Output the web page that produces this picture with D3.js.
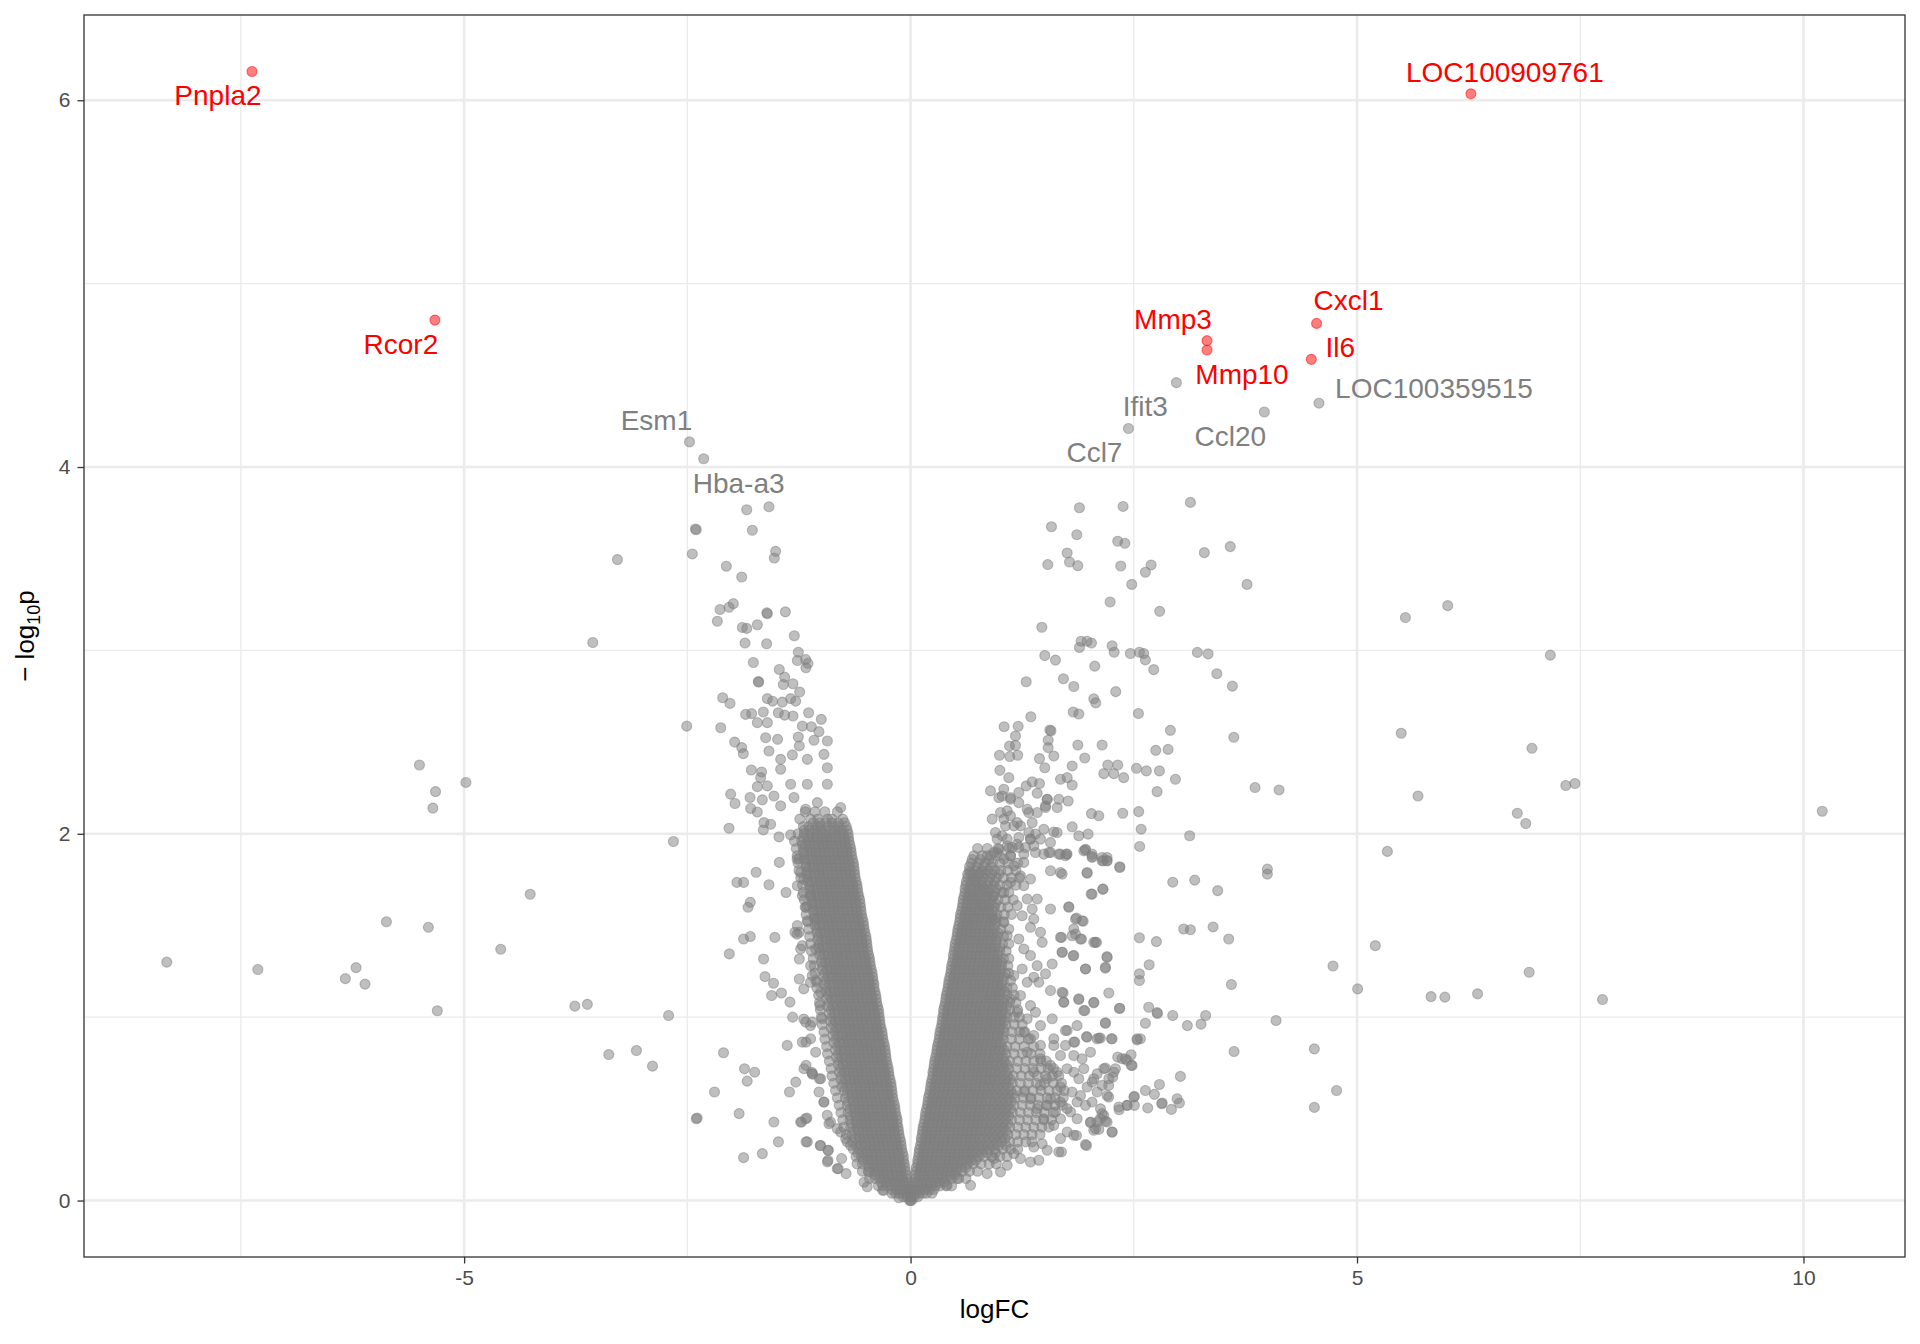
<!DOCTYPE html>
<html>
<head>
<meta charset="utf-8">
<script src="https://cdnjs.cloudflare.com/ajax/libs/d3/7.8.5/d3.min.js"></script>
<style>
  html, body { margin: 0; padding: 0; background: #fff; }
  svg { display: block; font-family: "Liberation Sans", Arial, Helvetica, sans-serif; }
</style>
</head>
<body>
<svg id="chart"></svg>
<script>

//============================================================
// Data (logFC, -log10 p)
//------------------------------------------------------------

// labelled genes
var genes    = ['Pnpla2', 'LOC100909761', 'Rcor2', 'Cxcl1', 'Mmp3', 'Mmp10', 'Il6', 'Ifit3', 'LOC100359515', 'Ccl20', 'Ccl7', 'Esm1', 'Hba-a3'];
var geneFC   = [-7.376, 6.275, -5.327, 4.547, 3.32, 3.32, 4.488, 2.977, 4.574, 3.962, 2.44, -2.476, -2.317];
var geneLogP = [6.157, 6.035, 4.801, 4.783, 4.689, 4.638, 4.587, 4.46, 4.348, 4.30, 4.21, 4.137, 4.045];
var geneSig  = [true, true, true, true, true, true, true, false, false, false, false, false, false];

// dense left arm of the V: [logP, logFC, logFC, ...]
var leftArmRows = [
  [0.00, 0.00, -0.01],
  [0.04, -0.01,-0.05,-0.09,-0.13,-0.17,-0.21],
  [0.08, -0.03,-0.07,-0.11,-0.16,-0.21,-0.26,-0.31,-0.36],
  [0.12, -0.04,-0.09,-0.14,-0.19,-0.24,-0.29,-0.34,-0.40,-0.46],
  [0.16, -0.06,-0.11,-0.16,-0.21,-0.26,-0.31,-0.36,-0.41,-0.47,-0.54],
  [0.20, -0.07,-0.12,-0.17,-0.22,-0.27,-0.32,-0.37,-0.42,-0.48,-0.54,-0.60],
  [0.24, -0.08,-0.13,-0.18,-0.23,-0.28,-0.33,-0.38,-0.43,-0.49,-0.55,-0.61],
  [0.28, -0.10,-0.15,-0.20,-0.25,-0.30,-0.35,-0.40,-0.45,-0.51,-0.57,-0.64],
  [0.32, -0.11,-0.16,-0.21,-0.26,-0.31,-0.36,-0.41,-0.46,-0.52,-0.58,-0.65,-0.71],
  [0.36, -0.13,-0.18,-0.23,-0.28,-0.33,-0.38,-0.43,-0.48,-0.53,-0.59,-0.66,-0.72],
  [0.40, -0.14,-0.19,-0.24,-0.29,-0.34,-0.39,-0.44,-0.49,-0.54,-0.60,-0.67,-0.75],
  [0.44, -0.15,-0.20,-0.25,-0.30,-0.35,-0.40,-0.45,-0.50,-0.55,-0.61,-0.68,-0.76],
  [0.48, -0.17,-0.22,-0.27,-0.32,-0.37,-0.42,-0.47,-0.52,-0.57,-0.63,-0.70,-0.78],
  [0.52, -0.18,-0.23,-0.28,-0.33,-0.38,-0.43,-0.48,-0.53,-0.58,-0.64,-0.71,-0.80],
  [0.56, -0.20,-0.25,-0.30,-0.35,-0.40,-0.45,-0.50,-0.55,-0.60,-0.66,-0.73,-0.82],
  [0.60, -0.21,-0.26,-0.31,-0.36,-0.41,-0.46,-0.51,-0.56,-0.61,-0.67,-0.74,-0.84],
  [0.64, -0.22,-0.27,-0.32,-0.37,-0.42,-0.47,-0.52,-0.57,-0.62,-0.68,-0.75,-0.86],
  [0.68, -0.24,-0.29,-0.34,-0.39,-0.44,-0.49,-0.54,-0.59,-0.64,-0.70,-0.77,-0.88],
  [0.72, -0.25,-0.30,-0.35,-0.40,-0.45,-0.50,-0.55,-0.60,-0.65,-0.71,-0.78,-0.89],
  [0.76, -0.27,-0.32,-0.37,-0.42,-0.47,-0.52,-0.57,-0.62,-0.67,-0.73,-0.80,-0.91],
  [0.80, -0.28,-0.33,-0.38,-0.43,-0.48,-0.53,-0.58,-0.63,-0.68,-0.74,-0.81,-0.93],
  [0.84, -0.29,-0.34,-0.39,-0.44,-0.49,-0.54,-0.59,-0.64,-0.69,-0.75,-0.82,-0.94],
  [0.88, -0.31,-0.36,-0.41,-0.46,-0.51,-0.56,-0.61,-0.66,-0.71,-0.77,-0.84,-0.96],
  [0.92, -0.32,-0.37,-0.42,-0.47,-0.52,-0.57,-0.62,-0.67,-0.72,-0.78,-0.85,-0.97],
  [0.96, -0.34,-0.39,-0.44,-0.49,-0.54,-0.59,-0.64,-0.69,-0.74,-0.80,-0.87,-0.99],
  [1.00, -0.35,-0.40,-0.45,-0.50,-0.55,-0.60,-0.65,-0.70,-0.75,-0.81,-0.88,-1.00],
  [1.04, -0.36,-0.41,-0.46,-0.51,-0.56,-0.61,-0.66,-0.71,-0.76,-0.82,-0.89,-1.01],
  [1.08, -0.38,-0.43,-0.48,-0.53,-0.58,-0.63,-0.68,-0.73,-0.78,-0.84,-0.91,-1.02],
  [1.12, -0.39,-0.44,-0.49,-0.54,-0.59,-0.64,-0.69,-0.74,-0.79,-0.85,-0.92,-1.03],
  [1.16, -0.41,-0.46,-0.51,-0.56,-0.61,-0.66,-0.71,-0.76,-0.81,-0.87,-0.94,-1.05],
  [1.20, -0.42,-0.47,-0.52,-0.57,-0.62,-0.67,-0.72,-0.77,-0.82,-0.88,-0.95,-1.06],
  [1.24, -0.43,-0.48,-0.53,-0.58,-0.63,-0.68,-0.73,-0.78,-0.83,-0.89,-0.96,-1.07],
  [1.28, -0.45,-0.50,-0.55,-0.60,-0.65,-0.70,-0.75,-0.80,-0.85,-0.91,-0.98,-1.08],
  [1.32, -0.46,-0.51,-0.56,-0.61,-0.66,-0.71,-0.76,-0.81,-0.86,-0.92,-0.99,-1.09],
  [1.36, -0.48,-0.53,-0.58,-0.63,-0.68,-0.73,-0.78,-0.83,-0.88,-0.94,-1.01,-1.11],
  [1.40, -0.49,-0.54,-0.59,-0.64,-0.69,-0.74,-0.79,-0.84,-0.89,-0.95,-1.02,-1.12],
  [1.44, -0.50,-0.55,-0.60,-0.65,-0.70,-0.75,-0.80,-0.85,-0.90,-0.96,-1.03,-1.13],
  [1.48, -0.52,-0.57,-0.62,-0.67,-0.72,-0.77,-0.82,-0.87,-0.92,-0.98,-1.05,-1.14],
  [1.52, -0.53,-0.58,-0.63,-0.68,-0.73,-0.78,-0.83,-0.88,-0.93,-0.99,-1.06,-1.15],
  [1.56, -0.55,-0.60,-0.65,-0.70,-0.75,-0.80,-0.85,-0.90,-0.95,-1.01,-1.08,-1.17],
  [1.60, -0.56,-0.61,-0.66,-0.71,-0.76,-0.81,-0.86,-0.91,-0.96,-1.02,-1.09,-1.18],
  [1.64, -0.57,-0.62,-0.67,-0.72,-0.77,-0.82,-0.87,-0.92,-0.97,-1.03,-1.10,-1.19],
  [1.68, -0.59,-0.64,-0.69,-0.74,-0.79,-0.84,-0.89,-0.94,-0.99,-1.05,-1.12,-1.20],
  [1.72, -0.60,-0.65,-0.70,-0.75,-0.80,-0.85,-0.90,-0.95,-1.00,-1.06,-1.13,-1.21],
  [1.76, -0.62,-0.67,-0.72,-0.77,-0.82,-0.87,-0.92,-0.97,-1.02,-1.08,-1.15,-1.23],
  [1.80, -0.63,-0.68,-0.73,-0.78,-0.83,-0.88,-0.93,-0.98,-1.03,-1.09,-1.16,-1.25],
  [1.84, -0.64,-0.69,-0.74,-0.79,-0.84,-0.89,-0.94,-0.99,-1.04,-1.10,-1.17,-1.26],
  [1.88, -0.66,-0.71,-0.76,-0.81,-0.86,-0.91,-0.96,-1.01,-1.06,-1.12,-1.19,-1.27],
  [1.92, -0.67,-0.72,-0.77,-0.82,-0.87,-0.92,-0.97,-1.02,-1.07,-1.13,-1.20,-1.28],
  [1.96, -0.69,-0.74,-0.79,-0.84,-0.89,-0.94,-0.99,-1.04,-1.09,-1.15,-1.22,-1.30],
  [2.00, -0.70,-0.76,-0.82,-0.88,-0.94,-1.00,-1.06,-1.12,-1.19,-1.26],
  [2.04, -0.72,-0.80,-0.85,-0.93,-1.01,-1.05,-1.14,-1.20],
  [2.08, -0.76,-0.88,-0.93,-1.04,-1.12,-1.24],
  [2.12, -0.82,-0.96,-1.07,-1.18]
];

// in-between rows of the left arm, where the cloud is solid
var leftArmFill = [
  [0.02, -0.01,-0.04,-0.08],
  [0.06, -0.02,-0.06,-0.11,-0.16,-0.21],
  [0.10, -0.035,-0.08,-0.13,-0.18,-0.23,-0.28,-0.33],
  [0.14, -0.05,-0.10,-0.15,-0.20,-0.25,-0.30,-0.35,-0.40],
  [0.18, -0.065,-0.115,-0.165,-0.215,-0.265,-0.315,-0.365,-0.415,-0.465],
  [0.22, -0.08,-0.13,-0.18,-0.23,-0.28,-0.33,-0.38,-0.43,-0.48,-0.53],
  [0.26, -0.09,-0.14,-0.19,-0.24,-0.29,-0.34,-0.39,-0.44,-0.49,-0.54,-0.59],
  [0.30, -0.105,-0.155,-0.205,-0.255,-0.305,-0.355,-0.405,-0.455,-0.505,-0.555,-0.61],
  [0.34, -0.12,-0.17,-0.22,-0.27,-0.32,-0.37,-0.42,-0.47,-0.52,-0.57,-0.62],
  [0.38, -0.135,-0.185,-0.235,-0.285,-0.335,-0.385,-0.435,-0.485,-0.535,-0.585,-0.64],
  [0.42, -0.15,-0.20,-0.25,-0.30,-0.35,-0.40,-0.45,-0.50,-0.55,-0.60,-0.66],
  [0.46, -0.16,-0.21,-0.26,-0.31,-0.36,-0.41,-0.46,-0.51,-0.56,-0.61,-0.67],
  [0.50, -0.175,-0.225,-0.275,-0.325,-0.375,-0.425,-0.475,-0.525,-0.575,-0.625,-0.68],
  [0.54, -0.19,-0.24,-0.29,-0.34,-0.39,-0.44,-0.49,-0.54,-0.59,-0.64,-0.70],
  [0.58, -0.205,-0.255,-0.305,-0.355,-0.405,-0.455,-0.505,-0.555,-0.605,-0.655,-0.71],
  [0.62, -0.215,-0.265,-0.315,-0.365,-0.415,-0.465,-0.515,-0.565,-0.615,-0.665,-0.72,-0.77],
  [0.66, -0.23,-0.28,-0.33,-0.38,-0.43,-0.48,-0.53,-0.58,-0.63,-0.68,-0.73,-0.78],
  [0.70, -0.245,-0.295,-0.345,-0.395,-0.445,-0.495,-0.545,-0.595,-0.645,-0.695,-0.745,-0.80],
  [0.74, -0.26,-0.31,-0.36,-0.41,-0.46,-0.51,-0.56,-0.61,-0.66,-0.71,-0.76,-0.81],
  [0.78, -0.275,-0.325,-0.375,-0.425,-0.475,-0.525,-0.575,-0.625,-0.675,-0.725,-0.775,-0.83],
  [0.82, -0.285,-0.335,-0.385,-0.435,-0.485,-0.535,-0.585,-0.635,-0.685,-0.735,-0.785,-0.84],
  [0.86, -0.30,-0.35,-0.40,-0.45,-0.50,-0.55,-0.60,-0.65,-0.70,-0.75,-0.80,-0.86],
  [0.90, -0.315,-0.365,-0.415,-0.465,-0.515,-0.565,-0.615,-0.665,-0.715,-0.765,-0.815,-0.87],
  [0.94, -0.33,-0.38,-0.43,-0.48,-0.53,-0.58,-0.63,-0.68,-0.73,-0.78,-0.83,-0.89],
  [0.98, -0.345,-0.395,-0.445,-0.495,-0.545,-0.595,-0.645,-0.695,-0.745,-0.795,-0.845,-0.90],
  [1.02, -0.355,-0.405,-0.455,-0.505,-0.555,-0.605,-0.655,-0.705,-0.755,-0.805,-0.855,-0.91],
  [1.06, -0.37,-0.42,-0.47,-0.52,-0.57,-0.62,-0.67,-0.72,-0.77,-0.82,-0.87,-0.93],
  [1.10, -0.385,-0.435,-0.485,-0.535,-0.585,-0.635,-0.685,-0.735,-0.785,-0.835,-0.885,-0.94],
  [1.14, -0.40,-0.45,-0.50,-0.55,-0.60,-0.65,-0.70,-0.75,-0.80,-0.85,-0.90,-0.95],
  [1.18, -0.41,-0.46,-0.51,-0.56,-0.61,-0.66,-0.71,-0.76,-0.81,-0.86,-0.91,-0.97],
  [1.22, -0.425,-0.475,-0.525,-0.575,-0.625,-0.675,-0.725,-0.775,-0.825,-0.875,-0.925,-0.98],
  [1.26, -0.44,-0.49,-0.54,-0.59,-0.64,-0.69,-0.74,-0.79,-0.84,-0.89,-0.94,-0.99],
  [1.30, -0.455,-0.505,-0.555,-0.605,-0.655,-0.705,-0.755,-0.805,-0.855,-0.905,-0.955,-1.00],
  [1.34, -0.47,-0.52,-0.57,-0.62,-0.67,-0.72,-0.77,-0.82,-0.87,-0.92,-0.97,-1.02],
  [1.38, -0.485,-0.535,-0.585,-0.635,-0.685,-0.735,-0.785,-0.835,-0.885,-0.935,-0.985,-1.03],
  [1.42, -0.495,-0.545,-0.595,-0.645,-0.695,-0.745,-0.795,-0.845,-0.895,-0.945,-0.995,-1.04],
  [1.46, -0.51,-0.56,-0.61,-0.66,-0.71,-0.76,-0.81,-0.86,-0.91,-0.96,-1.01,-1.05],
  [1.50, -0.525,-0.575,-0.625,-0.675,-0.725,-0.775,-0.825,-0.875,-0.925,-0.975,-1.025,-1.07],
  [1.54, -0.54,-0.59,-0.64,-0.69,-0.74,-0.79,-0.84,-0.89,-0.94,-0.99,-1.04,-1.08],
  [1.58, -0.555,-0.605,-0.655,-0.705,-0.755,-0.805,-0.855,-0.905,-0.955,-1.005,-1.055,-1.09],
  [1.62, -0.565,-0.615,-0.665,-0.715,-0.765,-0.815,-0.865,-0.915,-0.965,-1.015,-1.065,-1.10],
  [1.66, -0.58,-0.63,-0.68,-0.73,-0.78,-0.83,-0.88,-0.93,-0.98,-1.03,-1.08,-1.12],
  [1.70, -0.595,-0.645,-0.695,-0.745,-0.795,-0.845,-0.895,-0.945,-0.995,-1.045,-1.095,-1.13],
  [1.74, -0.61,-0.66,-0.71,-0.76,-0.81,-0.86,-0.91,-0.96,-1.01,-1.06,-1.11,-1.15],
  [1.78, -0.625,-0.675,-0.725,-0.775,-0.825,-0.875,-0.925,-0.975,-1.025,-1.075,-1.125,-1.16],
  [1.82, -0.635,-0.685,-0.735,-0.785,-0.835,-0.885,-0.935,-0.985,-1.035,-1.085,-1.135,-1.17],
  [1.86, -0.65,-0.70,-0.75,-0.80,-0.85,-0.90,-0.95,-1.00,-1.05,-1.10,-1.15,-1.19],
  [1.90, -0.665,-0.715,-0.765,-0.815,-0.865,-0.915,-0.965,-1.015,-1.065,-1.115,-1.165,-1.20],
  [1.94, -0.68,-0.73,-0.78,-0.83,-0.88,-0.93,-0.98,-1.03,-1.08,-1.13,-1.18,-1.21],
  [1.98, -0.695,-0.745,-0.795,-0.845,-0.895,-0.945,-0.995,-1.045,-1.095,-1.145,-1.20],
  [2.02, -0.71,-0.77,-0.83,-0.89,-0.95,-1.01,-1.07,-1.13,-1.19],
  [2.06, -0.74,-0.81,-0.88,-0.95,-1.02,-1.09]
];

// dense right arm of the V: [logP, logFC, logFC, ...]
var rightArmRows = [
  [0.00, 0.01],
  [0.04, 0.02,0.06,0.10,0.14,0.18,0.24],
  [0.08, 0.03,0.08,0.13,0.18,0.23,0.28,0.33,0.40,0.46],
  [0.12, 0.05,0.10,0.15,0.20,0.25,0.30,0.35,0.40,0.46,0.54,0.62],
  [0.16, 0.06,0.11,0.16,0.21,0.26,0.31,0.36,0.41,0.46,0.52,0.58,0.66,0.75],
  [0.20, 0.08,0.13,0.18,0.23,0.28,0.33,0.38,0.43,0.48,0.53,0.58,0.64,0.70,0.79,0.88,0.96],
  [0.24, 0.09,0.14,0.19,0.24,0.29,0.34,0.39,0.44,0.49,0.54,0.59,0.64,0.70,0.76,0.82,0.91,1.00,1.08],
  [0.28, 0.10,0.15,0.20,0.25,0.30,0.35,0.40,0.45,0.50,0.55,0.60,0.65,0.70,0.76,0.82,0.88,0.94,1.03,1.12,1.20],
  [0.32, 0.12,0.17,0.22,0.27,0.32,0.37,0.42,0.47,0.52,0.57,0.62,0.67,0.72,0.78,0.84,0.90,0.96,1.02,1.11,1.20,1.29,1.36],
  [0.36, 0.13,0.18,0.23,0.28,0.33,0.38,0.43,0.48,0.53,0.58,0.63,0.68,0.73,0.79,0.85,0.91,0.97,1.03,1.09,1.18,1.27,1.36,1.45],
  [0.40, 0.14,0.19,0.24,0.29,0.34,0.39,0.44,0.49,0.54,0.59,0.64,0.69,0.74,0.80,0.86,0.92,0.98,1.04,1.11,1.20,1.29,1.38,1.47,1.55],
  [0.44, 0.16,0.21,0.26,0.31,0.36,0.41,0.46,0.51,0.56,0.61,0.66,0.71,0.76,0.82,0.88,0.94,1.00,1.06,1.13,1.22,1.31,1.40,1.49,1.58],
  [0.48, 0.17,0.22,0.27,0.32,0.37,0.42,0.47,0.52,0.57,0.62,0.67,0.72,0.77,0.83,0.89,0.95,1.01,1.07,1.14,1.23,1.32,1.41,1.50,1.60],
  [0.52, 0.19,0.24,0.29,0.34,0.39,0.44,0.49,0.54,0.59,0.64,0.69,0.74,0.79,0.85,0.91,0.97,1.03,1.09,1.16,1.25,1.34,1.43,1.52,1.62,1.70],
  [0.56, 0.20,0.25,0.30,0.35,0.40,0.45,0.50,0.55,0.60,0.65,0.70,0.75,0.80,0.86,0.92,0.98,1.04,1.10,1.17,1.26,1.35,1.44,1.53,1.62,1.71],
  [0.60, 0.22,0.27,0.32,0.37,0.42,0.47,0.52,0.57,0.62,0.67,0.72,0.77,0.82,0.88,0.94,1.00,1.06,1.12,1.19,1.28,1.37,1.46,1.55,1.64,1.72],
  [0.64, 0.23,0.28,0.33,0.38,0.43,0.48,0.53,0.58,0.63,0.68,0.73,0.78,0.83,0.89,0.95,1.01,1.07,1.14,1.23,1.32,1.41,1.50,1.60,1.69],
  [0.68, 0.25,0.30,0.35,0.40,0.45,0.50,0.55,0.60,0.65,0.70,0.75,0.80,0.85,0.91,0.97,1.03,1.09,1.15,1.24,1.33,1.42,1.51,1.59,1.66],
  [0.72, 0.26,0.31,0.36,0.41,0.46,0.51,0.56,0.61,0.66,0.71,0.76,0.81,0.86,0.92,0.98,1.04,1.10,1.19,1.28,1.37,1.46,1.54,1.60],
  [0.76, 0.27,0.32,0.37,0.42,0.47,0.52,0.57,0.62,0.67,0.72,0.77,0.82,0.87,0.93,0.99,1.05,1.11,1.20,1.29,1.38,1.46,1.52],
  [0.80, 0.29,0.34,0.39,0.44,0.49,0.54,0.59,0.64,0.69,0.74,0.79,0.84,0.89,0.95,1.01,1.07,1.16,1.25,1.35,1.45],
  [0.84, 0.30,0.35,0.40,0.45,0.50,0.55,0.60,0.65,0.70,0.75,0.80,0.85,0.90,0.96,1.02,1.08,1.17,1.27,1.38],
  [0.88, 0.32,0.37,0.42,0.47,0.52,0.57,0.62,0.67,0.72,0.77,0.82,0.87,0.92,0.98,1.04,1.13,1.22,1.32],
  [0.92, 0.33,0.38,0.43,0.48,0.53,0.58,0.63,0.68,0.73,0.78,0.83,0.88,0.93,0.99,1.05,1.14,1.22,1.28],
  [0.96, 0.35,0.40,0.45,0.50,0.55,0.60,0.65,0.70,0.75,0.80,0.85,0.90,0.95,1.01,1.07,1.16,1.25],
  [1.00, 0.36,0.41,0.46,0.51,0.56,0.61,0.66,0.71,0.76,0.81,0.86,0.91,0.96,1.02,1.08,1.16,1.22],
  [1.04, 0.37,0.42,0.47,0.52,0.57,0.62,0.67,0.72,0.77,0.82,0.87,0.92,0.97,1.03,1.11,1.20],
  [1.08, 0.39,0.44,0.49,0.54,0.59,0.64,0.69,0.74,0.79,0.84,0.89,0.94,0.99,1.04,1.11,1.18],
  [1.12, 0.40,0.45,0.50,0.55,0.60,0.65,0.70,0.75,0.80,0.85,0.90,0.95,1.00,1.08,1.16],
  [1.16, 0.42,0.47,0.52,0.57,0.62,0.67,0.72,0.77,0.82,0.87,0.92,0.97,1.02,1.08,1.14],
  [1.20, 0.43,0.48,0.53,0.58,0.63,0.68,0.73,0.78,0.83,0.88,0.93,0.98,1.04,1.12],
  [1.24, 0.45,0.50,0.55,0.60,0.65,0.70,0.75,0.80,0.85,0.90,0.95,1.00,1.06,1.10],
  [1.28, 0.46,0.51,0.56,0.61,0.66,0.71,0.76,0.81,0.86,0.91,0.96,1.02,1.09],
  [1.32, 0.48,0.53,0.58,0.63,0.68,0.73,0.78,0.83,0.88,0.93,0.98,1.04,1.10],
  [1.36, 0.49,0.54,0.59,0.64,0.69,0.74,0.79,0.84,0.89,0.94,1.00,1.07],
  [1.40, 0.50,0.55,0.60,0.65,0.70,0.75,0.80,0.85,0.90,0.96,1.03,1.10],
  [1.44, 0.52,0.57,0.62,0.67,0.72,0.77,0.82,0.87,0.92,0.97,1.04],
  [1.48, 0.53,0.58,0.63,0.68,0.73,0.78,0.83,0.88,0.94,1.01,1.10],
  [1.52, 0.55,0.60,0.65,0.70,0.75,0.80,0.85,0.90,0.96,1.04],
  [1.56, 0.56,0.61,0.66,0.71,0.76,0.81,0.86,0.91,0.97,1.05,1.13],
  [1.60, 0.58,0.63,0.68,0.73,0.78,0.83,0.88,0.94,1.01,1.09],
  [1.64, 0.59,0.64,0.69,0.74,0.79,0.85,0.91,0.98,1.06,1.15],
  [1.68, 0.61,0.66,0.71,0.76,0.81,0.87,0.94,1.02,1.10],
  [1.72, 0.62,0.68,0.74,0.80,0.86,0.93,1.00,1.08,1.18],
  [1.76, 0.64,0.70,0.76,0.82,0.89,0.96,1.04,1.13,1.22],
  [1.80, 0.66,0.73,0.80,0.87,0.94,1.01,1.09,1.18],
  [1.84, 0.68,0.76,0.84,0.92,1.00,1.09,1.20],
  [1.88, 0.71,0.80,0.90,1.00,1.12],
  [1.92, 0.75,0.86,0.98,1.10]
];

// in-between rows of the right arm (solid part only, the fan stays lighter)
var rightArmFill = [
  [0.02, 0.01,0.04,0.08],
  [0.06, 0.02,0.06,0.11,0.16,0.21,0.26],
  [0.10, 0.035,0.08,0.13,0.18,0.23,0.28,0.33,0.38],
  [0.14, 0.05,0.10,0.15,0.20,0.25,0.30,0.35,0.40,0.45,0.50],
  [0.18, 0.065,0.115,0.165,0.215,0.265,0.315,0.365,0.415,0.465,0.515,0.565,0.62],
  [0.22, 0.08,0.13,0.18,0.23,0.28,0.33,0.38,0.43,0.48,0.53,0.58,0.63,0.68,0.73],
  [0.26, 0.095,0.145,0.195,0.245,0.295,0.345,0.395,0.445,0.495,0.545,0.595,0.645,0.695,0.745,0.80,0.86,0.95],
  [0.30, 0.11,0.16,0.21,0.26,0.31,0.36,0.41,0.46,0.51,0.56,0.61,0.66,0.71,0.76,0.81,0.87,0.93,0.99,1.07],
  [0.34, 0.12,0.17,0.22,0.27,0.32,0.37,0.42,0.47,0.52,0.57,0.62,0.67,0.72,0.77,0.82,0.88,0.94,1.00,1.06],
  [0.38, 0.135,0.185,0.235,0.285,0.335,0.385,0.435,0.485,0.535,0.585,0.635,0.685,0.735,0.785,0.835,0.89,0.95,1.01,1.07],
  [0.42, 0.15,0.20,0.25,0.30,0.35,0.40,0.45,0.50,0.55,0.60,0.65,0.70,0.75,0.80,0.85,0.91,0.97,1.03,1.09],
  [0.46, 0.165,0.215,0.265,0.315,0.365,0.415,0.465,0.515,0.565,0.615,0.665,0.715,0.765,0.815,0.865,0.92,0.98,1.04,1.10],
  [0.50, 0.18,0.23,0.28,0.33,0.38,0.43,0.48,0.53,0.58,0.63,0.68,0.73,0.78,0.83,0.88,0.94,1.00,1.06,1.12],
  [0.54, 0.195,0.245,0.295,0.345,0.395,0.445,0.495,0.545,0.595,0.645,0.695,0.745,0.795,0.845,0.895,0.95,1.01,1.07,1.13],
  [0.58, 0.21,0.26,0.31,0.36,0.41,0.46,0.51,0.56,0.61,0.66,0.71,0.76,0.81,0.86,0.91,0.97,1.03,1.09,1.15],
  [0.62, 0.225,0.275,0.325,0.375,0.425,0.475,0.525,0.575,0.625,0.675,0.725,0.775,0.825,0.875,0.925,0.98,1.04,1.10],
  [0.66, 0.24,0.29,0.34,0.39,0.44,0.49,0.54,0.59,0.64,0.69,0.74,0.79,0.84,0.89,0.94,1.00,1.06,1.12],
  [0.70, 0.25,0.30,0.35,0.40,0.45,0.50,0.55,0.60,0.65,0.70,0.75,0.80,0.85,0.90,0.95,1.01,1.07],
  [0.74, 0.265,0.315,0.365,0.415,0.465,0.515,0.565,0.615,0.665,0.715,0.765,0.815,0.865,0.915,0.965,1.02,1.08],
  [0.78, 0.28,0.33,0.38,0.43,0.48,0.53,0.58,0.63,0.68,0.73,0.78,0.83,0.88,0.93,0.98,1.04],
  [0.82, 0.295,0.345,0.395,0.445,0.495,0.545,0.595,0.645,0.695,0.745,0.795,0.845,0.895,0.945,0.995,1.05],
  [0.86, 0.31,0.36,0.41,0.46,0.51,0.56,0.61,0.66,0.71,0.76,0.81,0.86,0.91,0.96,1.01],
  [0.90, 0.325,0.375,0.425,0.475,0.525,0.575,0.625,0.675,0.725,0.775,0.825,0.875,0.925,0.975,1.03],
  [0.94, 0.34,0.39,0.44,0.49,0.54,0.59,0.64,0.69,0.74,0.79,0.84,0.89,0.94,0.99,1.04],
  [0.98, 0.355,0.405,0.455,0.505,0.555,0.605,0.655,0.705,0.755,0.805,0.855,0.905,0.955,1.00,1.05],
  [1.02, 0.37,0.42,0.47,0.52,0.57,0.62,0.67,0.72,0.77,0.82,0.87,0.92,0.97,1.02,1.07],
  [1.06, 0.38,0.43,0.48,0.53,0.58,0.63,0.68,0.73,0.78,0.83,0.88,0.93,0.98,1.02,1.08],
  [1.10, 0.395,0.445,0.495,0.545,0.595,0.645,0.695,0.745,0.795,0.845,0.895,0.945,0.99,1.05],
  [1.14, 0.41,0.46,0.51,0.56,0.61,0.66,0.71,0.76,0.81,0.86,0.91,0.96,1.00,1.05],
  [1.18, 0.425,0.475,0.525,0.575,0.625,0.675,0.725,0.775,0.825,0.875,0.925,0.975,1.02],
  [1.22, 0.44,0.49,0.54,0.59,0.64,0.69,0.74,0.79,0.84,0.89,0.94,0.99,1.04],
  [1.26, 0.455,0.505,0.555,0.605,0.655,0.705,0.755,0.805,0.855,0.905,0.955,1.01],
  [1.30, 0.47,0.52,0.57,0.62,0.67,0.72,0.77,0.82,0.87,0.92,0.97,1.02],
  [1.34, 0.48,0.53,0.58,0.63,0.68,0.73,0.78,0.83,0.88,0.93,0.98],
  [1.38, 0.495,0.545,0.595,0.645,0.695,0.745,0.795,0.845,0.895,0.945,1.00],
  [1.42, 0.51,0.56,0.61,0.66,0.71,0.76,0.81,0.86,0.91,0.96],
  [1.46, 0.525,0.575,0.625,0.675,0.725,0.775,0.825,0.875,0.925,0.98],
  [1.50, 0.54,0.59,0.64,0.69,0.74,0.79,0.84,0.89,0.94],
  [1.54, 0.555,0.605,0.655,0.705,0.755,0.805,0.855,0.905,0.96],
  [1.58, 0.57,0.62,0.67,0.72,0.77,0.82,0.87,0.93],
  [1.62, 0.585,0.635,0.685,0.735,0.785,0.835,0.89,0.95],
  [1.66, 0.60,0.65,0.70,0.75,0.80,0.86,0.92],
  [1.70, 0.61,0.66,0.71,0.77,0.83,0.89,0.96],
  [1.74, 0.625,0.68,0.74,0.80,0.87,0.94],
  [1.78, 0.64,0.70,0.77,0.84,0.91,0.99],
  [1.82, 0.66,0.74,0.82,0.90],
  [1.86, 0.69,0.78,0.88]
];

// scattered points, down-regulated side: [logFC, logP]
var leftScatter = [
  [-5.50,2.375],[-5.32,2.23],[-5.35,2.14],[-4.98,2.28],[-4.26,1.67],[-5.87,1.52],[-5.40,1.49],[-4.59,1.37],
  [-8.33,1.30],[-7.31,1.26],[-6.21,1.27],[-6.33,1.21],[-6.11,1.18],[-5.30,1.035],[-3.76,1.06],[-3.62,1.07],
  [-3.38,0.796],[-3.07,0.818],[-2.89,0.733],[-2.71,1.009],[-2.40,0.446],[-2.39,0.45],
  [-1.835,3.767],[-1.586,3.783],[-2.40,3.658],[-2.41,3.662],[-1.772,3.655],[-1.511,3.54],[-1.526,3.504],
  [-2.444,3.526],[-3.283,3.495],[-2.063,3.459],[-1.891,3.40],[-3.559,3.043],[-2.134,3.223],[-2.033,3.235],
  [-1.985,3.255],[-2.164,3.159],[-1.604,3.20],[-1.61,3.205],[-1.402,3.21],[-1.884,3.125],[-1.835,3.12],
  [-1.716,3.14],[-1.854,3.04],[-1.612,3.036],[-1.302,3.08],[-1.761,2.934],[-1.257,2.99],[-1.268,2.945],
  [-1.175,2.95],[-1.149,2.929],[-1.172,2.905],[-1.701,2.827],[-1.705,2.83],[-1.470,2.896],[-1.410,2.854],
  [-1.425,2.814],[-1.317,2.818],[-1.242,2.773],[-2.104,2.742],[-2.022,2.711],[-2.507,2.587],[-2.126,2.578],
  [-1.604,2.737],[-1.545,2.723],[-1.436,2.718],[-1.343,2.737],[-1.287,2.723],[-1.142,2.66],[-1.847,2.651],
  [-1.78,2.655],[-1.649,2.664],[-1.481,2.66],[-1.41,2.647],[-1.317,2.642],[-1.716,2.606],[-1.604,2.606],
  [-1.0,2.624],[-1.212,2.587],[-1.111,2.584],[-1.026,2.557],[-1.623,2.524],[-1.489,2.515],[-1.257,2.528],
  [-1.082,2.51],[-0.932,2.506],[-1.97,2.50],[-1.891,2.47],[-1.873,2.437],[-1.586,2.451],[-1.455,2.406],
  [-1.324,2.43],[-1.246,2.479],[-1.156,2.406],[-0.97,2.433],[-0.932,2.36],[-1.783,2.348],[-1.668,2.337],
  [-1.455,2.352],[-1.679,2.306],[-1.716,2.257],[-1.604,2.261],[-1.343,2.27],[-1.156,2.27],[-0.932,2.27],
  [-2.015,2.216],[-1.966,2.165],[-1.798,2.198],[-1.66,2.185],[-1.791,2.138],[-1.716,2.119],[-1.53,2.206],
  [-1.455,2.152],[-1.306,2.198],[-1.175,2.134],[-1.044,2.17],[-0.783,2.143],[-2.033,2.03],[-1.642,2.061],
  [-1.649,2.021],[-1.567,2.052],[-1.474,1.983],[-1.343,1.994],[-2.656,1.958],
  [-1.945,1.735],[-1.87,1.735],[-1.73,1.79],[-1.586,1.722],[-1.47,1.844],[-1.395,1.68],[-1.795,1.626],
  [-1.82,1.599],[-1.87,1.426],[-1.795,1.44],[-1.52,1.435],[-2.03,1.345],[-1.646,1.317],[-1.63,1.221],
  [-1.535,1.185],[-1.556,1.118],[-1.446,1.132],[-1.351,1.082],[-1.321,1.0],[-1.246,1.208],[-1.271,1.453],
  [-2.095,0.806],[-1.86,0.719],[-1.746,0.70],[-1.83,0.651],[-2.196,0.592],[-1.92,0.474],[-1.531,0.428],
  [-1.48,0.32],[-1.87,0.234],[-1.66,0.256],[-1.356,0.592],[-1.286,0.646],[-1.381,0.846],[-1.221,0.428],
  [-1.161,0.45],[-1.171,0.32],[-1.012,0.30],[-0.921,0.274],[-0.931,0.211],[-0.821,0.174],[-0.722,0.147],
  [-0.772,0.229],[-0.521,0.10],[-0.313,0.056],[-0.471,0.156],[-1.171,0.737],[-1.097,0.69],[-1.021,0.664],
  [-0.971,0.537],[-0.896,0.428],[-1.121,0.954],[-1.171,0.864],[-1.196,1.154],[-1.121,1.19],[-1.196,0.99],
  [-1.246,1.317],[-1.171,1.599],[-1.246,1.463],[-1.271,1.862],[-1.196,1.753],[-1.12,1.662],[-1.071,1.535],
  [-1.108,0.70],[-1.231,0.428],[-1.175,0.446],[-1.156,0.32],[-1.007,0.30],[-0.925,0.274],[-0.925,0.219],
  [-0.81,0.174],[-0.485,0.075],[-0.30,0.056],[-0.13,0.015],[-1.295,1.463],[-1.268,1.499],[-1.231,1.372],
  [-1.212,1.39],[-1.157,1.526],[-1.101,1.227],[-1.045,1.19],[-1.007,1.136],[-1.015,1.063],[-0.989,0.991],
  [-1.101,0.973],[-1.175,0.973],[-1.212,0.864],[-1.119,0.882],[-1.063,0.809],[-1.194,0.719],[-1.101,0.691],
  [-1.007,0.664],[-1.026,0.592],[-0.97,0.537],[-0.933,0.465],[-0.914,0.419],[-0.821,0.392],[-0.783,0.374],
  [-0.727,0.338],[-0.672,0.301],[-1.268,1.717],[-1.231,1.789],[-1.25,1.862],[-1.157,1.608],[-1.212,1.662],
  [-1.119,1.281],[-1.063,1.372]
];

// scattered points, up-regulated side: [logFC, logP]
var rightScatter = [
  [1.891,3.778],[2.38,3.785],[3.134,3.807],[1.578,3.674],[1.862,3.631],[2.32,3.595],[2.40,3.584],[3.29,3.533],
  [3.58,3.566],[1.754,3.531],[1.78,3.482],[1.873,3.462],[1.537,3.468],[2.354,3.46],[2.694,3.466],[2.63,3.426],
  [2.477,3.36],[3.768,3.36],[2.235,3.264],[2.79,3.213],[1.47,3.126],[1.91,3.05],[1.977,3.05],[2.026,3.04],
  [1.891,3.016],[2.257,3.025],[2.28,2.99],[2.462,2.983],[2.563,2.99],[2.611,2.983],[2.63,2.948],[2.723,2.895],
  [3.212,2.989],[3.332,2.981],[3.43,2.873],[3.604,2.805],[1.503,2.972],[1.623,2.947],[2.063,2.914],[1.295,2.829],
  [1.712,2.845],[1.828,2.803],[2.298,2.775],[2.052,2.736],[2.074,2.714],[1.821,2.664],[1.884,2.653],[2.552,2.656],
  [1.347,2.638],[1.048,2.584],[1.205,2.586],[1.56,2.566],[1.572,2.561],[2.91,2.564],[3.62,2.526],[1.175,2.533],
  [1.108,2.479],[1.175,2.482],[1.541,2.51],[1.541,2.47],[1.604,2.424],[1.873,2.484],[2.145,2.484],[0.996,2.428],
  [1.111,2.421],[1.20,2.428],[1.444,2.41],[1.503,2.36],[1.951,2.413],[2.746,2.455],[2.884,2.46],[2.209,2.375],
  [2.32,2.375],[2.164,2.328],[2.276,2.328],[2.387,2.306],[2.53,2.357],[2.641,2.343],[2.787,2.343],[2.966,2.297],
  [3.858,2.252],[4.127,2.239],[2.761,2.23],[1.81,2.37],[1.81,2.266],[1.679,2.297],[1.754,2.306],[1.0,2.346],
  [1.1,2.306],[1.044,2.243],[0.895,2.234],[1.026,2.206],[1.119,2.197],[1.212,2.225],[1.295,2.261],[1.362,2.283],
  [1.444,2.274],[1.418,2.221],[1.53,2.188],[1.66,2.188],[1.765,2.179],[1.511,2.152],[1.642,2.143],[2.026,2.11],
  [2.108,2.098],[2.376,2.112],[2.555,2.121],[2.582,2.025],[3.126,1.989],[2.566,1.931],[1.81,2.038],[1.988,1.998],
  [1.884,1.989],
  [1.082,2.125],[1.119,2.098],[1.194,2.061],[1.231,2.043],[1.324,2.116],[1.362,2.061],[1.026,1.989],[1.063,2.043],
  [1.492,2.025],[1.604,2.01],[1.641,2.007],[1.399,1.998],[1.343,1.971],[1.548,1.898],[1.679,1.889],[1.753,1.889],
  [1.959,1.916],[2.033,1.889],[2.145,1.871],[2.201,1.871],[0.97,1.898],[1.138,1.925],[1.212,1.925],[1.287,1.925],
  [0.989,2.197],[1.119,2.188],[1.212,2.17],[1.306,2.134],[1.418,2.116],[1.511,2.143],[1.53,2.188],[1.007,2.116],
  [0.914,2.08],[1.045,2.08],[1.157,2.043],[0.951,2.007],[1.082,1.971],[1.212,1.98],[1.324,2.007],[1.455,1.971],
  [1.567,1.952],[0.989,1.916],[1.119,1.88],[1.268,1.889],[1.399,1.898],
  [5.542,3.179],[6.016,3.244],[7.165,2.974],[5.495,2.548],[6.959,2.466],[5.683,2.206],[7.338,2.263],[7.44,2.274],
  [6.795,2.112],[6.89,2.056],[10.21,2.123],[5.34,1.904],[5.205,1.39],[6.928,1.245],[5.829,1.112],[5.984,1.109],
  [6.35,1.127],[7.749,1.096],
  [3.996,1.807],[3.996,1.78],[2.936,1.736],[3.182,1.747],[3.44,1.69],[2.343,1.82],[2.157,1.853],[2.2,1.853],
  [2.034,1.876],[1.959,1.911],[1.746,1.889],[1.698,1.78],[1.977,1.785],[2.034,1.671],[2.152,1.698],[1.772,1.602],
  [1.858,1.54],[1.933,1.523],[1.828,1.481],[1.847,1.453],[1.914,1.426],[1.69,1.435],[2.052,1.408],[2.082,1.408],
  [2.563,1.433],[2.753,1.412],[3.059,1.481],[3.134,1.477],[3.388,1.492],[3.563,1.426],[4.731,1.279],[5.007,1.154],
  [1.698,1.354],[1.821,1.335],[2.20,1.33],[2.182,1.267],[1.959,1.263],[2.563,1.236],[2.563,1.20],[2.672,1.286],
  [3.593,1.178],[1.709,1.132],[1.716,1.082],[1.884,1.096],[1.951,1.036],[2.052,1.078],[2.339,1.047],[2.667,1.054],
  [2.761,1.025],[2.765,1.02],[2.936,1.009],[3.10,0.954],[3.253,0.962],[3.305,1.009],[4.093,0.982],[3.623,0.813],
  [4.522,0.827],[4.771,0.60],[4.522,0.508],[2.63,0.967],[2.574,0.882],[2.537,0.876],[2.182,0.967],[2.25,0.882],
  [2.108,0.886],[1.97,0.894],[1.839,0.864],[1.754,0.927],[2.32,0.782],[2.406,0.773],[2.47,0.795],[2.473,0.737],
  [2.294,0.719],[2.264,0.673],[2.182,0.722],[2.09,0.691],[2.034,0.646],[2.145,0.628],[2.219,0.628],[3.022,0.677],
  [2.787,0.633],[2.63,0.60],[2.731,0.579],[2.507,0.568],[2.813,0.528],[2.818,0.532],[2.985,0.555],[3.011,0.532],
  [2.921,0.497],[2.656,0.505],[2.507,0.519],[2.425,0.519],[2.336,0.495],[2.219,0.564],[2.127,0.50],[2.164,0.464],
  [2.182,0.432],[2.09,0.428],[2.015,0.425],[2.052,0.383],[2.108,0.388],[2.257,0.374],[1.858,0.355],[1.754,0.374],
  [1.97,0.30],[1.69,0.265],
  [1.567,1.59],[1.772,1.599],[1.847,1.535],[1.921,1.526],[1.679,1.435],[1.809,1.444],[1.903,1.426],[2.071,1.408],
  [2.201,1.326],[1.959,1.263],[2.182,1.272],[1.586,1.29],[1.697,1.354],[1.828,1.336],[1.567,1.145],[1.697,1.136],
  [1.716,1.081],[1.884,1.10],[2.052,1.081],[1.94,1.036],[2.343,1.049],[2.182,0.969],[2.22,1.132],[2.022,1.671],
  [2.156,1.698],[1.977,1.789],[2.343,1.816],[2.145,1.853],[2.201,1.853],[1.94,1.907],[2.033,1.871],[1.66,1.889],
  [1.735,1.88],[1.567,1.898],[1.418,1.644],[1.362,1.59],[1.38,1.535],[1.455,1.463],[1.474,1.408],[1.511,1.236],
  [1.38,1.218],[1.436,1.19],[1.343,1.063],[1.399,1.027],[1.306,0.991],[1.586,0.991],[1.735,0.927],[1.828,0.864],
  [1.977,0.891],[2.089,0.882],[2.126,0.886],[2.257,0.882],[1.828,0.791],[2.015,0.809],[2.164,0.719],[2.276,0.70],
  [2.369,0.773],[2.425,0.764],[2.481,0.737],[2.537,0.882],[2.22,0.664],[2.201,0.573],[2.332,0.51],[2.425,0.519],
  [2.50,0.564],[2.145,0.474],[2.126,0.446],[2.201,0.428],[2.015,0.428],[2.071,0.392],[2.257,0.374],[1.959,0.305],
  [1.828,0.356],[1.679,0.338],[1.66,0.265],[1.53,0.274],[1.474,0.31],[1.38,0.292],[1.231,0.229],[1.343,0.21],
  [1.436,0.22],[1.007,0.156],[0.858,0.147],[0.672,0.083],[0.522,0.12],[0.41,0.083],[1.157,0.256],[1.082,0.192],
  [0.933,0.229],
  [1.268,0.918],[1.343,0.882],[1.455,0.846],[1.604,0.846],[1.679,0.791],[1.753,0.719],[1.641,0.70],[1.53,0.664],
  [1.679,0.619],[1.809,0.592],[1.865,0.537],[1.791,0.483],[1.679,0.446],[1.604,0.41],[1.865,0.446],[1.959,0.519],
  [1.903,0.573],[1.977,0.619],[2.052,0.664],[2.089,0.592],[2.033,0.537],[1.828,0.70],[1.94,0.719],[1.921,0.773],
  [1.735,0.846],[1.865,0.954],[1.604,0.882],[1.455,0.954],[1.38,0.90],[1.306,0.809],[1.455,0.773],[1.567,0.737],
  [1.38,0.70],[1.455,0.628],[1.567,0.555],[1.679,0.537],[1.753,0.501],[1.623,0.483],[1.492,0.446],[1.418,0.501],
  [1.343,0.555],[1.268,0.592],[1.53,0.519],[1.884,0.664],
  [1.343,1.753],[1.268,1.717],[1.306,1.644],[1.194,1.608],[1.25,1.553],[1.343,1.49],[1.212,1.426],[1.268,1.372],
  [1.343,1.336],[1.418,1.281],[1.25,1.263],[1.157,1.227],[1.306,1.19],[1.231,1.118],[1.119,1.10],[1.194,1.027],
  [0.97,1.971],[1.082,1.934],[1.194,1.943],[1.343,1.971],[1.38,1.934],[1.492,1.889],[1.567,1.798],[1.679,1.789],
  [0.933,1.898],[1.045,1.862],[1.157,1.825],[1.268,1.844],[0.783,1.789],[0.858,1.88],[0.672,1.789],[0.727,1.744],
  [0.821,1.698],[0.933,1.662],[1.045,1.68],[1.119,1.735],[1.231,1.771],[0.709,1.644],[0.821,1.608],[0.933,1.535],
  [1.045,1.517],[1.082,1.444],[0.709,1.535],[0.634,1.499],[0.597,1.426]
];

// label placement relative to its point, in px: [dx, dy of baseline]
var labelNudge = {
  'Pnpla2': [-34, 34], 'Rcor2': [-34, 34], 'Esm1': [-33, -12], 'Hba-a3': [35, 34],
  'LOC100909761': [34, -12], 'Cxcl1': [32, -13], 'Mmp3': [-34, -12], 'Mmp10': [35, 34],
  'Il6': [29, -2], 'Ifit3': [-31, 33], 'LOC100359515': [115, -5], 'Ccl20': [-34, 34], 'Ccl7': [-34, 33]
};

//============================================================
// Setup
//------------------------------------------------------------

var width = 1920,
    height = 1344,
    margin = {top: 15, right: 15, bottom: 87, left: 84},
    innerW = width - margin.left - margin.right,
    innerH = height - margin.top - margin.bottom,
    pointR = 5,
    gray = '#7f7f7f',
    red = '#ff0000';

var points = [];
[leftArmRows, leftArmFill, rightArmRows, rightArmFill].forEach(function(rows) {
  rows.forEach(function(r) {
    for (var i = 1; i < r.length; i++) { points.push({x: r[i], y: r[0]}); }
  });
});
leftScatter.concat(rightScatter).forEach(function(d) { points.push({x: d[0], y: d[1]}); });

var labelled = genes.map(function(g, i) {
  return {name: g, x: geneFC[i], y: geneLogP[i], sig: geneSig[i]};
});

// ggplot style 5% expansion of the data range
function expand(ext) {
  var pad = (ext[1] - ext[0]) * 0.05;
  return [ext[0] - pad, ext[1] + pad];
}
var all = points.concat(labelled);
var x = d3.scaleLinear()
      .domain(expand(d3.extent(all, function(d) { return d.x; })))
      .range([0, innerW]);
var y = d3.scaleLinear()
      .domain(expand(d3.extent(all, function(d) { return d.y; })))
      .range([innerH, 0]);

var svg = d3.select('#chart')
      .attr('width', width)
      .attr('height', height);

var g = svg.append('g')
      .attr('transform', 'translate(' + margin.left + ',' + margin.top + ')');

//------------------------------------------------------------
// Grid

var xMajor = [-5, 0, 5, 10],
    xMinor = [-7.5, -2.5, 2.5, 7.5],
    yMajor = [0, 2, 4, 6],
    yMinor = [1, 3, 5];

var grid = g.append('g').attr('class', 'grid');
grid.selectAll('line.ymin').data(yMinor).enter().append('line')
  .attr('x1', 0).attr('x2', innerW)
  .attr('y1', y).attr('y2', y)
  .attr('stroke', '#ebebeb').attr('stroke-width', 1.3);
grid.selectAll('line.xmin').data(xMinor).enter().append('line')
  .attr('y1', 0).attr('y2', innerH)
  .attr('x1', x).attr('x2', x)
  .attr('stroke', '#ebebeb').attr('stroke-width', 1.3);
grid.selectAll('line.ymaj').data(yMajor).enter().append('line')
  .attr('x1', 0).attr('x2', innerW)
  .attr('y1', y).attr('y2', y)
  .attr('stroke', '#ebebeb').attr('stroke-width', 2.6);
grid.selectAll('line.xmaj').data(xMajor).enter().append('line')
  .attr('y1', 0).attr('y2', innerH)
  .attr('x1', x).attr('x2', x)
  .attr('stroke', '#ebebeb').attr('stroke-width', 2.6);

//------------------------------------------------------------
// Points

g.append('g').attr('class', 'points')
  .selectAll('circle').data(points).enter().append('circle')
    .attr('cx', function(d) { return x(d.x); })
    .attr('cy', function(d) { return y(d.y); })
    .attr('r', pointR)
    .attr('fill', gray).attr('fill-opacity', 0.5)
    .attr('stroke', gray).attr('stroke-opacity', 0.5).attr('stroke-width', 1.1);

g.append('g').attr('class', 'genes')
  .selectAll('circle').data(labelled).enter().append('circle')
    .attr('cx', function(d) { return x(d.x); })
    .attr('cy', function(d) { return y(d.y); })
    .attr('r', pointR)
    .attr('fill', function(d) { return d.sig ? red : gray; }).attr('fill-opacity', 0.5)
    .attr('stroke', function(d) { return d.sig ? red : gray; }).attr('stroke-opacity', 0.5)
    .attr('stroke-width', 1.1);

g.append('g').attr('class', 'labels')
  .selectAll('text').data(labelled).enter().append('text')
    .attr('x', function(d) { return x(d.x) + labelNudge[d.name][0]; })
    .attr('y', function(d) { return y(d.y) + labelNudge[d.name][1]; })
    .attr('text-anchor', 'middle')
    .attr('font-size', 28)
    .attr('fill', function(d) { return d.sig ? red : gray; })
    .text(function(d) { return d.name; });

//------------------------------------------------------------
// Panel border and axes

g.append('rect')
  .attr('width', innerW).attr('height', innerH)
  .attr('fill', 'none').attr('stroke', '#333333').attr('stroke-width', 1.3);

var fmt = function(d) { return String(d); };

var xAxis = g.append('g')
  .attr('transform', 'translate(0,' + innerH + ')')
  .call(d3.axisBottom(x).tickValues(xMajor).tickFormat(fmt).tickSize(6.5).tickPadding(7).tickSizeOuter(0));
var yAxis = g.append('g')
  .call(d3.axisLeft(y).tickValues(yMajor).tickFormat(fmt).tickSize(6.5).tickPadding(7).tickSizeOuter(0));

[xAxis, yAxis].forEach(function(a) {
  a.select('.domain').remove();
  a.selectAll('.tick line').attr('stroke', '#333333').attr('stroke-width', 1.3);
  a.selectAll('.tick text')
    .attr('fill', '#4d4d4d')
    .attr('font-size', 21)
    .attr('font-family', '"Liberation Sans", Arial, sans-serif');
});

//------------------------------------------------------------
// Axis titles

svg.append('text')
  .attr('x', margin.left + innerW / 2)
  .attr('y', 1318)
  .attr('text-anchor', 'middle')
  .attr('font-size', 26)
  .attr('fill', '#000')
  .text('logFC');

var yTitle = svg.append('text')
  .attr('transform', 'translate(34,' + (margin.top + innerH / 2) + ') rotate(-90)')
  .attr('text-anchor', 'middle')
  .attr('font-size', 26)
  .attr('fill', '#000');
yTitle.append('tspan').text('\u2212 log');
yTitle.append('tspan').attr('font-size', 18).attr('dy', 6).text('10');
yTitle.append('tspan').attr('dy', -6).text('p');

</script>
</body>
</html>
